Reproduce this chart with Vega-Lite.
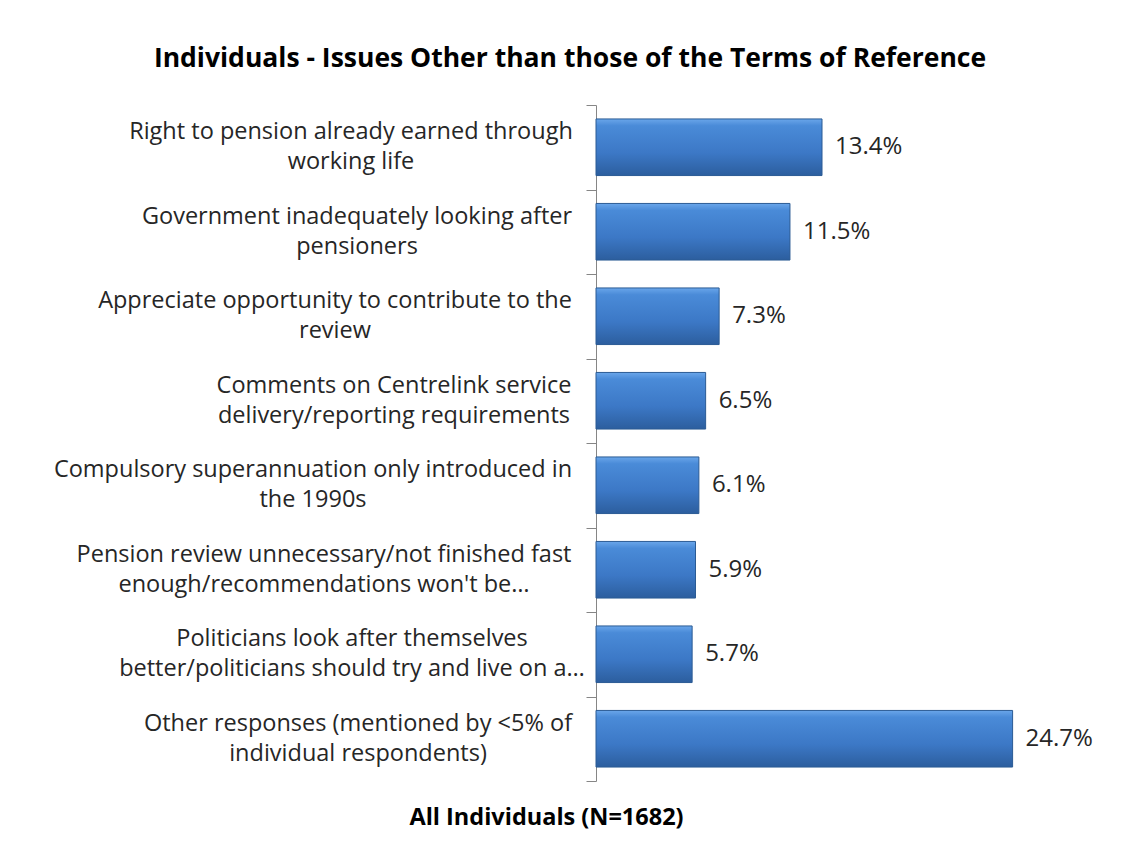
{
  "$schema": "https://vega.github.io/schema/vega-lite/v6.json",
  "autosize": {"type": "none"},
  "padding": {"left": 596, "top": 105, "right": 23, "bottom": 64},
  "width": 506,
  "height": 676,
  "background": "white",
  "title": {
    "text": "Individuals - Issues Other than those of the Terms of Reference",
    "font": "Open Sans",
    "fontSize": 26.5,
    "fontWeight": "bold",
    "color": "#000000",
    "anchor": "middle",
    "frame": "group",
    "dx": -279,
    "offset": 32
  },
  "data": {
    "values": [
      {"label": "Right to pension already earned through|working life", "value": 0.134},
      {"label": "Government inadequately looking after|pensioners", "value": 0.115},
      {"label": "Appreciate opportunity to contribute to the|review", "value": 0.073},
      {"label": "Comments on Centrelink service|delivery/reporting requirements", "value": 0.065},
      {"label": "Compulsory superannuation only introduced in|the 1990s", "value": 0.061},
      {"label": "Pension review unnecessary/not finished fast|enough/recommendations won't be…", "value": 0.059},
      {"label": "Politicians look after themselves|better/politicians should try and live on a…", "value": 0.057},
      {"label": "Other responses (mentioned by <5% of|individual respondents)", "value": 0.247}
    ]
  },
  "encoding": {
    "y": {
      "field": "label",
      "type": "nominal",
      "sort": null,
      "scale": {"paddingInner": 0, "paddingOuter": 0},
      "axis": {
        "title": null,
        "labels": false,
        "domainColor": "#868686",
        "tickColor": "#868686",
        "tickSize": 10,
        "tickBand": "extent",
        "grid": false
      }
    },
    "x": {
      "field": "value",
      "type": "quantitative",
      "scale": {"domain": [0, 0.3], "nice": false},
      "axis": {
        "title": "All Individuals (N=1682)",
        "labels": false,
        "ticks": false,
        "domain": false,
        "grid": false,
        "titleFont": "Open Sans",
        "titleFontSize": 23.5,
        "titleFontWeight": "bold",
        "titleColor": "#000000",
        "titleX": -50,
        "titleY": 36,
        "titleAlign": "center",
        "titleBaseline": "middle"
      }
    }
  },
  "layer": [
    {
      "mark": {
        "type": "bar",
        "height": {"band": 0.67},
        "stroke": "#2B5B94",
        "strokeWidth": 1,
        "color": {
          "gradient": "linear",
          "x1": 0, "y1": 0, "x2": 0, "y2": 1,
          "stops": [
            {"offset": 0, "color": "#6AA6EA"},
            {"offset": 0.12, "color": "#4A8BD8"},
            {"offset": 0.6, "color": "#3C78C6"},
            {"offset": 1, "color": "#2C5E9E"}
          ]
        }
      }
    },
    {
      "mark": {
        "type": "text",
        "align": "left",
        "baseline": "middle",
        "dx": 13,
        "font": "Open Sans",
        "fontSize": 24,
        "color": "#262626"
      },
      "encoding": {
        "text": {"field": "value", "type": "quantitative", "format": ".1%"}
      }
    },
    {
      "mark": {
        "type": "text",
        "align": "center",
        "baseline": "middle",
        "text": {"expr": "split(datum.label, '|')"},
        "lineHeight": 30,
        "dy": -15,
        "dx": {"expr": "indexof(datum.label, 'Right') == 0 ? -245 : indexof(datum.label, 'Government') == 0 ? -239 : indexof(datum.label, 'Appreciate') == 0 ? -261 : indexof(datum.label, 'Comments') == 0 ? -202 : indexof(datum.label, 'Compulsory') == 0 ? -283 : indexof(datum.label, 'Pension') == 0 ? -272 : indexof(datum.label, 'Politicians') == 0 ? -244 : -238"},
        "font": "Open Sans",
        "fontSize": 23.5,
        "color": "#262626"
      },
      "encoding": {
        "x": {"datum": 0, "type": "quantitative"}
      }
    }
  ],
  "config": {
    "view": {"stroke": null}
  }
}
